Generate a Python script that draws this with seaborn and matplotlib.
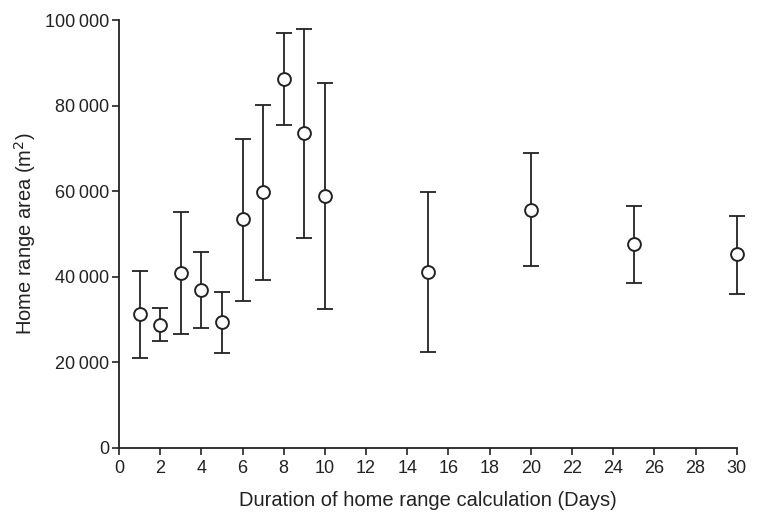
import matplotlib
matplotlib.use("Agg")
import matplotlib.pyplot as plt
import seaborn as sns
import pandas as pd
from matplotlib.ticker import FuncFormatter

days = [1, 2, 3, 4, 5, 6, 7, 8, 9, 10, 15, 20, 25, 30]
mean_area = [31200, 28800, 40900, 37000, 29400, 53400, 59800, 86100, 73500, 58900, 41100, 55700, 47700, 45200]
upper = [41400, 32800, 55100, 45800, 36400, 72200, 80200, 96900, 97900, 85200, 59700, 68800, 56500, 54200]
lower = [21100, 24900, 26600, 28100, 22200, 34300, 39300, 75400, 49000, 32500, 22300, 42400, 38600, 36000]

df = pd.DataFrame({"days": days, "area": mean_area, "upper": upper, "lower": lower})

sns.set_style("ticks")
plt.rcParams['font.family'] = ['Liberation Sans', 'DejaVu Sans']

fig = plt.figure(figsize=(7.58, 5.13), dpi=100)
ax = fig.add_axes([0.157, 0.127, 0.815, 0.834])

yerr = [df["area"] - df["lower"], df["upper"] - df["area"]]
eb = ax.errorbar(df["days"], df["area"], yerr=yerr, fmt='none', ecolor='#222222',
                 elinewidth=1.3, capsize=6, capthick=1.3, zorder=2)
for art in eb.get_children():
    art.set_clip_on(False)
sns.scatterplot(data=df, x="days", y="area", ax=ax, marker='o', s=85,
                facecolor='white', edgecolor='#222222', linewidth=1.4, zorder=3,
                clip_on=False)

ax.set_xlim(0, 30)
ax.set_ylim(0, 100000)
ax.set_xticks(range(0, 31, 2))
ax.set_yticks(range(0, 100001, 20000))
ax.yaxis.set_major_formatter(FuncFormatter(lambda v, p: f"{int(v):,}".replace(",", "\u2009")))
ax.tick_params(direction='out', length=5, width=1.2, labelsize=13, colors='#222222')
ax.tick_params(axis='y', pad=2)
for s in ['left', 'bottom']:
    ax.spines[s].set_linewidth(1.3)
    ax.spines[s].set_color('#222222')
sns.despine(ax=ax)

ax.set_xlabel("Duration of home range calculation (Days)", fontsize=14.5, labelpad=10, color='#222222')
ax.set_ylabel("Home range area (m$^2$)", fontsize=14.5, labelpad=5, color='#222222')

fig.savefig("out.png", dpi=100)
